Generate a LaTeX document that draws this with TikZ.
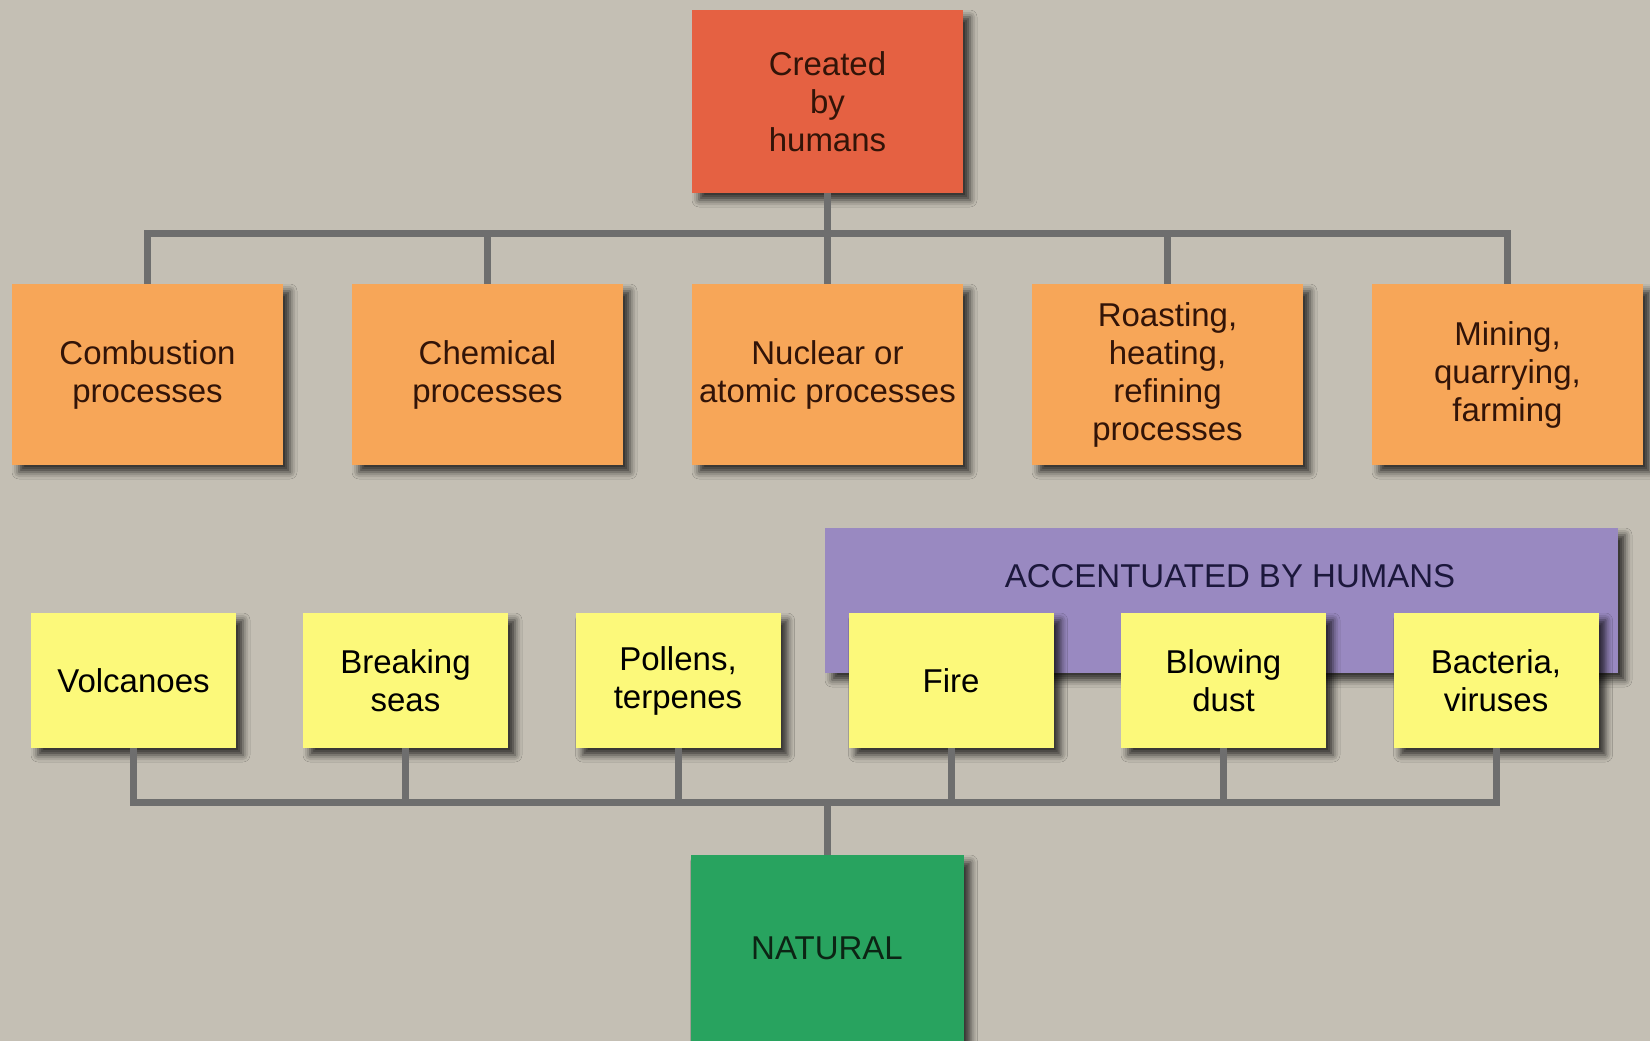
\documentclass[tikz,border=0pt]{standalone}
\usepackage{fontspec}
\setmainfont{Liberation Sans}
\usetikzlibrary{shadows.blur}
\definecolor{bg}{RGB}{196,191,180}
\definecolor{redbox}{RGB}{229,97,66}
\definecolor{orangebox}{RGB}{247,166,88}
\definecolor{yellowbox}{RGB}{252,249,122}
\definecolor{purplebox}{RGB}{153,137,193}
\definecolor{greenbox}{RGB}{40,163,95}
\definecolor{connc}{RGB}{110,110,110}
\definecolor{browntext}{RGB}{50,20,8}
\definecolor{navytext}{RGB}{28,24,60}
\definecolor{greentext}{RGB}{12,36,20}
\definecolor{shadowc}{RGB}{45,35,30}
\begin{document}
\begin{tikzpicture}[x=1pt,y=-1pt,
  box/.style={rectangle, inner sep=0pt, align=center,
    font=\fontsize{33}{38}\selectfont,
    blur shadow={shadow xshift=7pt, shadow yshift=-7pt, shadow blur radius=7pt, shadow opacity=75, shadow blur extra rounding=0pt}},
  topbox/.style={box, fill=redbox, text=browntext, minimum width=271pt, minimum height=183pt},
  procbox/.style={box, fill=orangebox, text=browntext, minimum width=271pt, minimum height=181pt},
  srcbox/.style={box, fill=yellowbox, text=black, minimum width=205pt, minimum height=135pt},
  natbox/.style={box, fill=greenbox, text=greentext, minimum width=273pt, minimum height=186pt},
  groupbox/.style={box, fill=purplebox, minimum width=793pt, minimum height=145pt},
  grouplabel/.style={inner sep=0pt, text=navytext, font=\fontsize{33}{38}\selectfont},
  bus/.style={draw=connc, line width=7pt}
]
\useasboundingbox (0,0) rectangle (1650,1041);
\clip (0,0) rectangle (1650,1041);
\fill[bg] (0,0) rectangle (1650,1041);

% top
\node[topbox] (red) at (827.5,101.5) {Created\\by\\humans};
\node[procbox] (c1) at (147.5,374.5) {Combustion\\processes};
\node[procbox] (c2) at (487.5,374.5) {Chemical\\processes};
\node[procbox] (c3) at (827.5,374.5) {Nuclear or\\atomic processes};
\node[procbox] (c4) at (1167.5,374.5) {Roasting,\\heating,\\refining\\processes};
\node[procbox] (c5) at (1507.5,374.5) {Mining,\\quarrying,\\farming};

% accentuated group
\node[groupbox] (acc) at (1221.5,600.5) {};
\node[grouplabel] (acclabel) at (1230,576.5) {ACCENTUATED BY HUMANS};

% natural sources
\node[srcbox] (s1) at (133.5,680.5) {Volcanoes};
\node[srcbox] (s2) at (405.5,680.5) {Breaking\\seas};
\node[srcbox] (s3) at (678,680.5) {Pollens,\\terpenes};
\node[srcbox] (s4) at (951,680.5) {Fire};
\node[srcbox] (s5) at (1223.5,680.5) {Blowing\\dust};
\node[srcbox] (s6) at (1496,680.5) {Bacteria,\\viruses};

\node[natbox] (nat) at (827,948) {NATURAL};

% connectors
\coordinate (tbus) at (0,233);
\coordinate (bbus) at (0,802);
\draw[bus] (c1.north) -- (c1.north |- tbus) -- (c5.north |- tbus) -- (c5.north);
\foreach \n in {c2,c3,c4} \draw[bus] (\n.north) -- (\n.north |- tbus);
\draw[bus] (red.south) -- (red.south |- tbus);
\draw[bus] (s1.south) -- (s1.south |- bbus) -- (s6.south |- bbus) -- (s6.south);
\foreach \n in {s2,s3,s4,s5} \draw[bus] (\n.south) -- (\n.south |- bbus);
\draw[bus] (nat.north) -- (nat.north |- bbus);
\end{tikzpicture}
\end{document}
